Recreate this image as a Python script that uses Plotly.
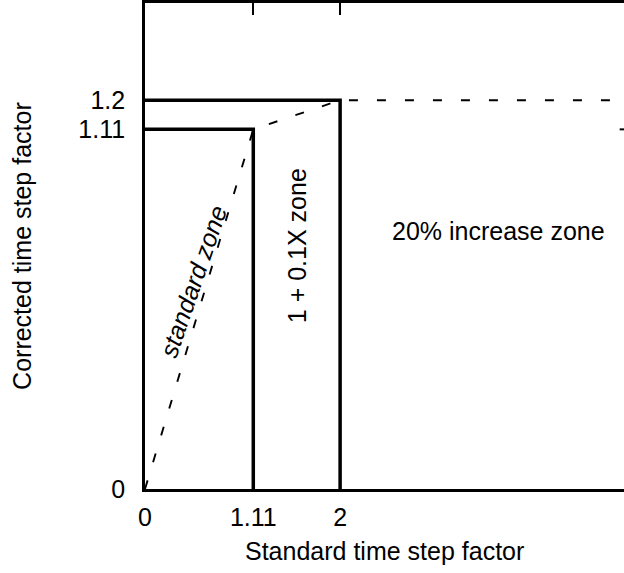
import plotly.graph_objects as go

# Data
x_ticks = [0, 1.11, 2]
x_tick_text = ["0", "1.11", "2"]
y_ticks = [0, 1.11, 1.2]
y_tick_text = ["0", "1.11", "1.2"]

# zone boundaries (solid)
std_limit = 1.11      # standard zone boundary (x and y)
mid_limit_x = 2       # 1 + 0.1X zone boundary x
mid_limit_y = 1.2     # 1 + 0.1X zone boundary y

# dashed corrected-factor curve
curve_x = [0, 1.11, 2, 5]
curve_y = [0, 1.11, 1.2, 1.2]

zone_labels = ["standard zone", "1 + 0.1X zone", "20% increase zone"]
zone_label_x = [0.49, 1.56, 3.62]
zone_label_y = [0.64, 0.75, 0.795]
zone_label_angle = [-71, -90, 0]
zone_label_italic = [True, False, False]

FONT = "Liberation Sans, Arial, sans-serif"

fig = go.Figure()

# dashed curve
fig.add_trace(go.Scatter(x=curve_x, y=curve_y, mode="lines",
                         line=dict(color="black", width=1.9, dash="9px,19px"),
                         hoverinfo="skip", showlegend=False))

# standard zone boundary
fig.add_trace(go.Scatter(x=[0, std_limit, std_limit], y=[std_limit, std_limit, 0],
                         mode="lines", line=dict(color="black", width=3.5),
                         hoverinfo="skip", showlegend=False))
# 1 + 0.1X zone boundary
fig.add_trace(go.Scatter(x=[0, mid_limit_x, mid_limit_x], y=[mid_limit_y, mid_limit_y, 0],
                         mode="lines", line=dict(color="black", width=3.5),
                         hoverinfo="skip", showlegend=False))

for txt, xx, yy, ang, it in zip(zone_labels, zone_label_x, zone_label_y,
                                zone_label_angle, zone_label_italic):
    fig.add_annotation(x=xx, y=yy, text=f"<i>{txt}</i>" if it else txt,
                       textangle=ang, showarrow=False,
                       font=dict(family=FONT, size=25, color="black"),
                       xanchor="center", yanchor="middle")

# axis titles
fig.add_annotation(xref="paper", yref="paper", x=0.5, y=-0.127,
                   text="Standard time step factor", showarrow=False,
                   font=dict(family=FONT, size=25, color="black"),
                   xanchor="center", yanchor="middle")
fig.add_annotation(xref="paper", yref="paper", x=-0.257, y=0.5,
                   text="Corrected time step factor", showarrow=False, textangle=-90,
                   font=dict(family=FONT, size=25, color="black"),
                   xanchor="center", yanchor="middle")

# right-side mirrored tick at 1.11 (axis edge lies just outside the view)
fig.add_shape(type="line", xref="paper", yref="y", x0=0.991, x1=1.0,
              y0=std_limit, y1=std_limit, line=dict(color="black", width=2))

fig.update_layout(
    width=624, height=573,
    margin=dict(l=145, r=0, t=1, b=84),
    paper_bgcolor="white", plot_bgcolor="white",
    font=dict(family=FONT, size=25, color="black"),
    xaxis=dict(range=[0, 4.91], tickvals=x_ticks, ticktext=x_tick_text,
               showgrid=False, zeroline=False, showline=True, linecolor="black",
               linewidth=2.7, mirror="ticks", ticks="inside", ticklen=12,
               tickwidth=2, tickcolor="black", tickfont=dict(size=25),
               ticklabelstandoff=4),
    yaxis=dict(range=[0, 1.5], tickvals=y_ticks, ticktext=y_tick_text,
               showgrid=False, zeroline=False, showline=True, linecolor="black",
               linewidth=2.7, ticks="inside", ticklen=12,
               tickwidth=2, tickcolor="black", tickfont=dict(size=25),
               ticklabelstandoff=12),
)

fig.write_html("out.html")
